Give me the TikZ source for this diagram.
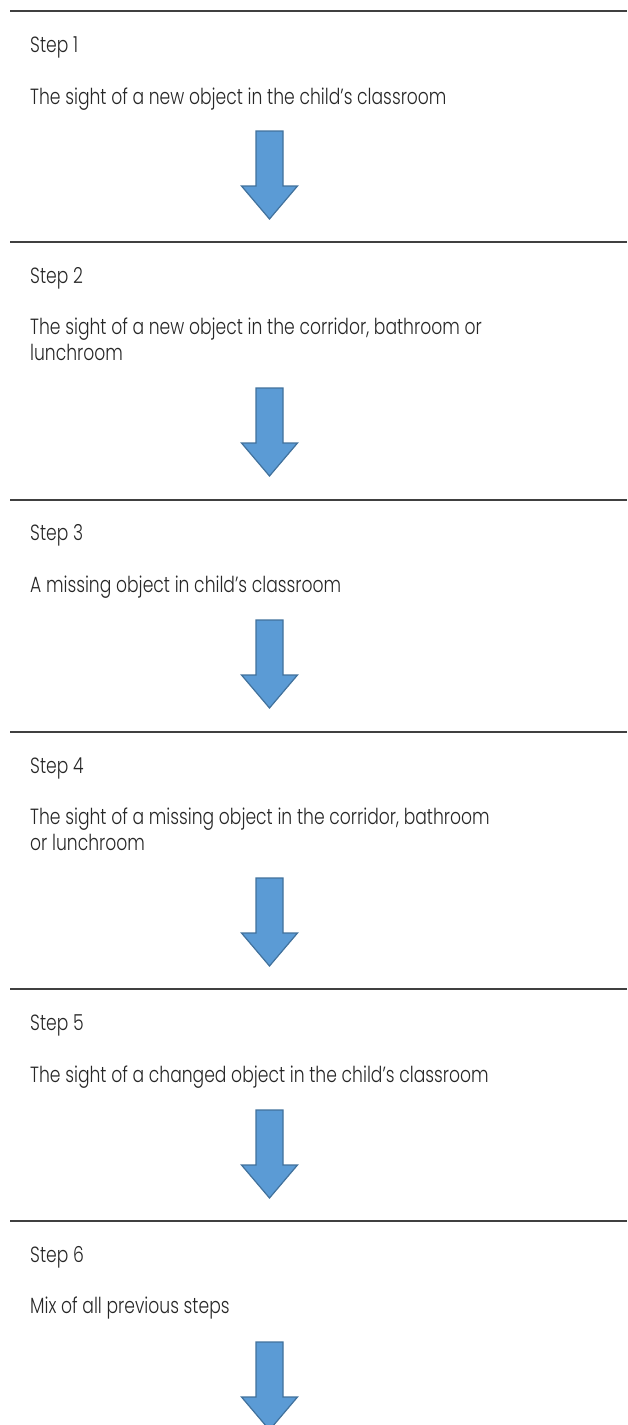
\documentclass[tikz,border=0pt]{standalone}
\usepackage{fontspec}
\setmainfont{Poppins}[UprightFont={* Light}, FakeStretch=0.78]

\definecolor{arrowfill}{HTML}{5B9BD5}
\definecolor{arrowedge}{HTML}{41719C}
\definecolor{rulegray}{HTML}{404040}

\tikzset{
  steplabel/.style={anchor=base west, inner sep=0pt, text=black!85,
    font=\fontsize{22}{26}\selectfont},
  steptext/.style={steplabel, align=left},
  rule/.style={rulegray, line width=1.2pt},
  blockarrow/.pic={
    \draw [fill=arrowfill, draw=arrowedge, line width=1.2pt]
      (-13.5,0) -- (13.5,0) -- (13.5,55) -- (28,55) -- (0,88)
      -- (-28,55) -- (-13.5,55) -- cycle;
  }
}

\begin{document}
\begin{tikzpicture}[x=1pt, y=-1pt]
  \useasboundingbox (0,0) rectangle (627,1425);

  % rules between the steps
  \foreach \ry in {11, 242, 500, 732, 989, 1221}
    \draw [rule] (10,\ry) -- (627,\ry);

  % base anchor of a two-line node sits on its last line
  \node [steplabel] (s1) at (30,52)   {Step 1};
  \node [steptext]  (t1) at (30,104)  {The sight of a new object in the child’s classroom};
  \node [steplabel] (s2) at (30,283)  {Step 2};
  \node [steptext]  (t2) at (30,360)  {The sight of a new object in the corridor, bathroom or\\lunchroom};
  \node [steplabel] (s3) at (30,540)  {Step 3};
  \node [steptext]  (t3) at (30,592)  {A missing object in child’s classroom};
  \node [steplabel] (s4) at (30,773)  {Step 4};
  \node [steptext]  (t4) at (30,850)  {The sight of a missing object in the corridor, bathroom\\or lunchroom};
  \node [steplabel] (s5) at (30,1030) {Step 5};
  \node [steptext]  (t5) at (30,1082) {The sight of a changed object in the child’s classroom};
  \node [steplabel] (s6) at (30,1262) {Step 6};
  \node [steptext]  (t6) at (30,1313) {Mix of all previous steps};

  % block arrows
  \foreach \ay in {131, 388, 620, 878, 1110, 1342}
    \pic at (269.5,\ay) {blockarrow};
\end{tikzpicture}
\end{document}
